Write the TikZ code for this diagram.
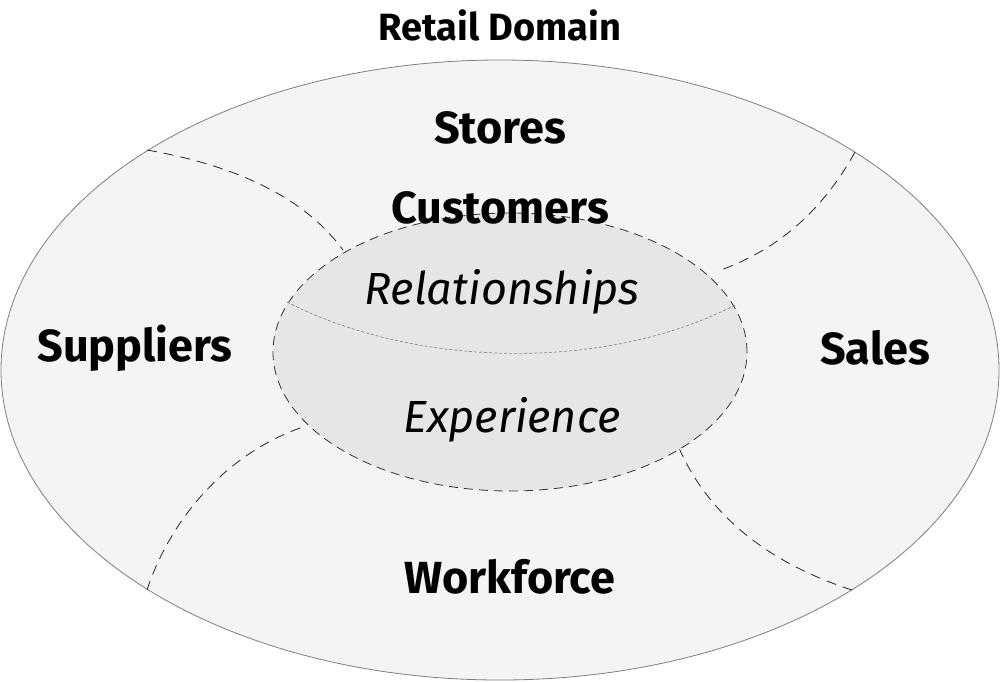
\documentclass[tikz,border=0pt]{standalone}
\usepackage{fontspec}
\setmainfont{Fira Sans}
\definecolor{outerfill}{HTML}{F4F4F4}
\definecolor{innerfill}{HTML}{E6E6E6}
\definecolor{outerline}{HTML}{7F7F7F}
\definecolor{dotline}{HTML}{8A8A8A}
\begin{document}
\begin{tikzpicture}[x=1pt,y=-1pt,
  divline/.style={draw=black!85, line width=0.8pt, dash pattern=on 10pt off 7pt},
  boldlabel/.style={font=\fontsize{45}{50}\selectfont\bfseries, inner sep=0pt},
  itlabel/.style={font=\fontsize{45}{50}\selectfont\itshape, inner sep=0pt},
  titlelabel/.style={font=\fontsize{38}{44}\selectfont\bfseries, inner sep=0pt}]
\useasboundingbox (0,0) rectangle (1001,681);
\fill[white] (0,0) rectangle (1001,681);
% outer ellipse
\draw[outerline, fill=outerfill, line width=0.8pt] (500,370) ellipse [x radius=499pt, y radius=310pt];
% dividing lines
\coordinate (ul1) at (147,150); \coordinate (ul2) at (343,250);
\coordinate (ur1) at (855,152); \coordinate (ur2) at (721,270);
\coordinate (ll1) at (300,428); \coordinate (ll2) at (147,590);
\coordinate (lr1) at (679,448); \coordinate (lr2) at (852,590);
\draw[divline] (ul1) .. controls (250,168) and (310,205) .. (ul2);
\draw[divline] (ur1) .. controls (820,215) and (775,250) .. (ur2);
\draw[divline] (ll1) .. controls (225,455) and (170,520) .. (ll2);
\draw[divline] (lr1) .. controls (715,530) and (790,570) .. (lr2);
% inner ellipse
\draw[black!80, line width=0.8pt, dash pattern=on 9pt off 6pt, fill=innerfill] (510,352) ellipse [x radius=237pt, y radius=139pt];
\coordinate (il) at (287,302); \coordinate (ir) at (735,305);
\draw[dotline, line width=0.7pt, dash pattern=on 3pt off 2pt] (il) .. controls (420,370) and (610,370) .. (ir);
% labels
\node[titlelabel] (title) at (500,25) {Retail Domain};
\node[boldlabel] (stores) at (500,128) {Stores};
\node[boldlabel] (customers) at (500,208) {Customers};
\node[itlabel] (rel) at (502,292) {Relationships};
\node[itlabel] (exp) at (512,420) {Experience};
\node[boldlabel] (sup) at (135,348) {Suppliers};
\node[boldlabel] (sales) at (875,348) {Sales};
\node[boldlabel] (work) at (510,577) {Workforce};
\end{tikzpicture}
\end{document}
